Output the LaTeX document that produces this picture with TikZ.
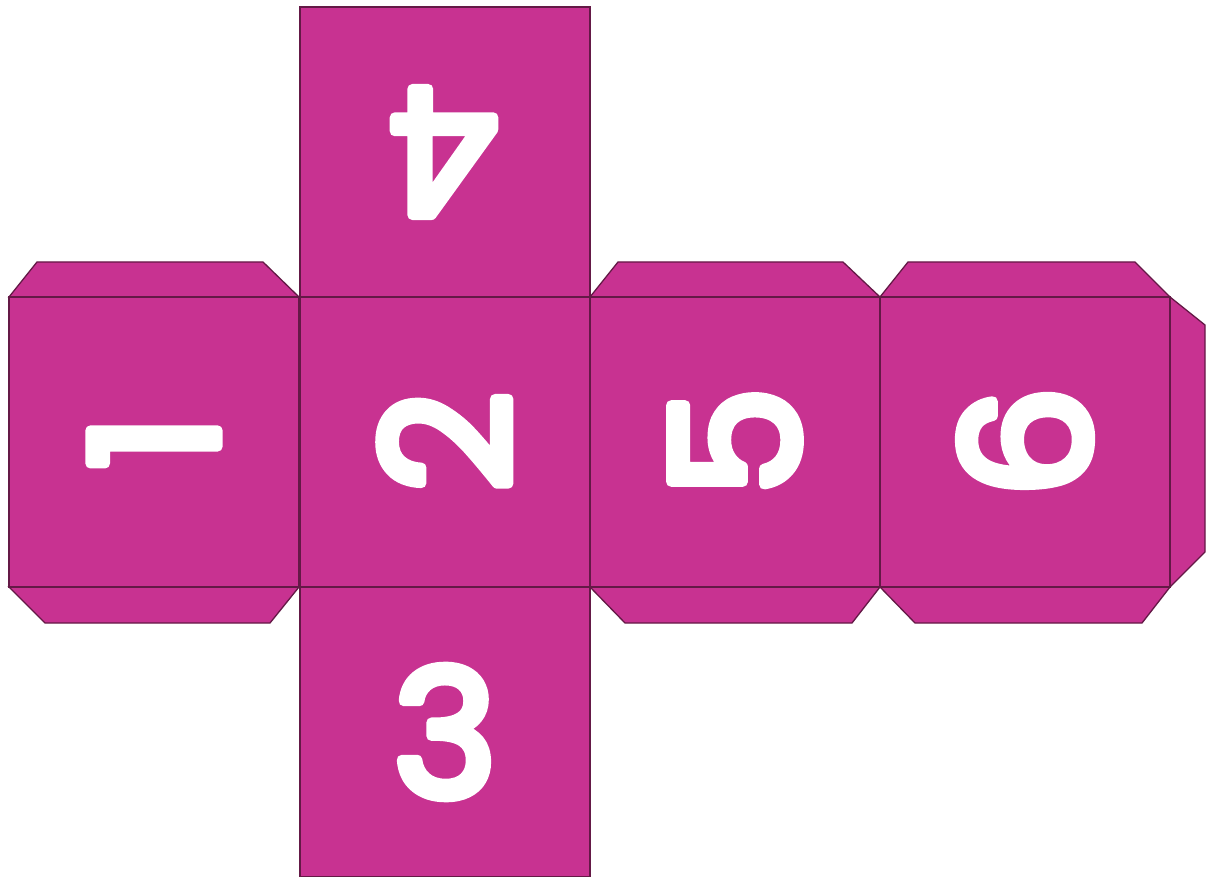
\documentclass[tikz,border=0pt]{standalone}
\usepackage{fontspec}
\newfontfamily\digitfont{Poppins}
\definecolor{netfill}{RGB}{200,50,145}
\definecolor{netline}{RGB}{100,25,70}
\newcommand{\rounddigit}[1]{\special{pdf:code 2 Tr 1 j 1 J 10 w 1 1 1 RG}#1\special{pdf:code 0 Tr}}
\begin{document}
\begin{tikzpicture}[x=1pt,y=-1pt,
  part/.style={fill=netfill,draw=netline,line width=1.3pt,line join=miter},
  face/.style={part,shape=rectangle,minimum size=290pt,inner sep=0pt,outer sep=0pt,text=white,
    font=\digitfont\fontsize{176}{176}\selectfont}]
\useasboundingbox (0,0) rectangle (1208,877);
% tabs
\path[part] (9,297) -- (37,262) -- (263,262) -- (299,297) -- cycle;
\path[part] (9,587) -- (45,623) -- (270,623) -- (299,587) -- cycle;
\path[part] (590,297) -- (618,262) -- (843,262) -- (880,297) -- cycle;
\path[part] (590,587) -- (625,623) -- (852,623) -- (880,587) -- cycle;
\path[part] (880,297) -- (908,262) -- (1135,262) -- (1170,297) -- cycle;
\path[part] (880,587) -- (915,623) -- (1142,623) -- (1170,587) -- cycle;
\path[part] (1170,297) -- (1205,325) -- (1205,552) -- (1170,587) -- cycle;
% faces
\node[face,rotate=180] (f4) at (445,152) {\rounddigit{4}};
\node[face,rotate=90] (f1) at (154,442) {\rounddigit{1}};
\node[face,rotate=90] (f2) at (445,442) {\rounddigit{2}};
\node[face,rotate=90] (f5) at (735,442) {\rounddigit{5}};
\node[face,rotate=90] (f6) at (1025,442) {\rounddigit{6}};
\node[face] (f3) at (445,732) {\rounddigit{3}};
\end{tikzpicture}
\end{document}
